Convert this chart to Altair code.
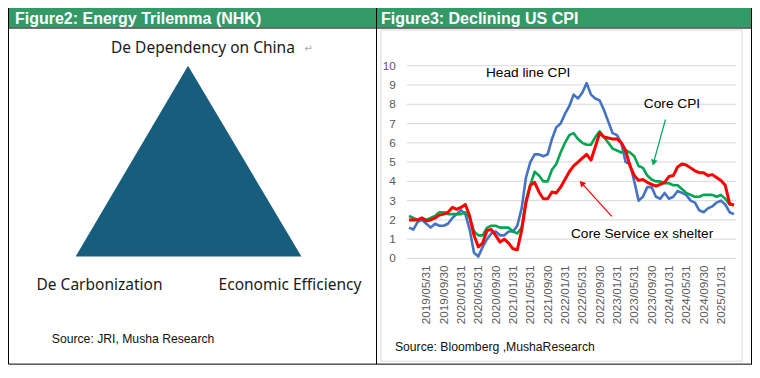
import altair as alt
import pandas as pd

# ---------------- canvas (reference pixel space is mapped onto the chart) ----
W, H = 744, 362
REF_X0, REF_X1 = 8, 756
REF_H = 370


def sx(v):
    return (v - REF_X0) * W / (REF_X1 - REF_X0)


def sy(v):
    return v * H / REF_H


FONT = "Liberation Sans"
DIAGRAM_FONT = "Noto Sans"
GREEN_HDR = "#339966"

# ---------------- Figure 3 data: US CPI, % YoY, monthly 2019/01 .. 2025/04 ----
HEADLINE = [
    1.6, 1.5, 1.9, 2.0, 1.8, 1.6, 1.8, 1.7, 1.7, 1.8, 2.1, 2.3,
    2.5, 2.3, 1.5, 0.3, 0.1, 0.6, 1.0, 1.3, 1.4, 1.2, 1.2, 1.4,
    1.4, 1.7, 2.6, 4.2, 5.0, 5.4, 5.4, 5.3, 5.4, 6.2, 6.8, 7.0,
    7.5, 7.9, 8.5, 8.3, 8.6, 9.1, 8.5, 8.3, 8.2, 7.7, 7.1, 6.5,
    6.4, 6.0, 5.0, 4.9, 4.0, 3.0, 3.2, 3.7, 3.7, 3.2, 3.1, 3.4,
    3.1, 3.2, 3.5, 3.4, 3.3, 3.0, 2.9, 2.5, 2.4, 2.6, 2.7, 2.9,
    3.0, 2.8, 2.4, 2.3,
]
CORE = [
    2.2, 2.1, 2.0, 2.1, 2.0, 2.1, 2.2, 2.4, 2.4, 2.3, 2.3, 2.3,
    2.3, 2.4, 2.1, 1.4, 1.2, 1.2, 1.6, 1.7, 1.7, 1.6, 1.6, 1.6,
    1.4, 1.3, 1.6, 3.0, 3.8, 4.5, 4.3, 4.0, 4.0, 4.6, 4.9, 5.5,
    6.0, 6.4, 6.5, 6.2, 6.0, 5.9, 5.9, 6.3, 6.6, 6.3, 6.0, 5.7,
    5.6, 5.5, 5.6, 5.5, 5.3, 4.8, 4.7, 4.3, 4.1, 4.0, 4.0, 3.9,
    3.9, 3.8, 3.8, 3.6, 3.4, 3.3, 3.2, 3.2, 3.3, 3.3, 3.3, 3.2,
    3.3, 3.1, 2.8, 2.8,
]
SUPERCORE = [
    2.0, 2.0, 2.0, 2.1, 1.95, 2.0, 2.1, 2.25, 2.3, 2.4, 2.65, 2.55,
    2.65, 2.8, 2.2, 1.2, 0.6, 0.8, 1.45, 1.5, 1.2, 0.85, 1.0, 0.8,
    0.5, 0.45, 1.45, 2.9, 3.8, 3.95, 3.45, 3.1, 3.1, 3.45, 3.4, 3.7,
    4.1, 4.5, 4.8, 5.0, 5.2, 5.4, 5.1, 5.8, 6.5, 6.3, 6.25, 6.2,
    6.2, 6.0, 5.6, 4.8, 4.3, 4.05, 4.1, 3.95, 3.85, 3.75, 3.85, 3.95,
    4.25, 4.3, 4.75, 4.9, 4.85, 4.7, 4.55, 4.45, 4.45, 4.3, 4.35, 4.2,
    4.05, 3.8, 2.85, 2.75,
]
N = len(HEADLINE)
MONTH_IDX = list(range(N))

TICK_LABELS = [
    "2019/05/31", "2019/09/30", "2020/01/31", "2020/05/31", "2020/09/30",
    "2021/01/31", "2021/05/31", "2021/09/30", "2022/01/31", "2022/05/31",
    "2022/09/30", "2023/01/31", "2023/05/31", "2023/09/30", "2024/01/31",
    "2024/05/31", "2024/09/30", "2025/01/31",
]
TICK_POS = [4, 8, 12, 16, 20, 24, 28, 32, 36, 40, 44, 48, 52, 56, 60, 64, 68, 72]
Y_TICKS = [0, 1, 2, 3, 4, 5, 6, 7, 8, 9, 10]

# annotations (month index, value)
ANNOT_TEXT = ["Head line CPI", "Core CPI", "Core Service ex shelter"]
ANNOT_X = [27.5, 60.7, 53.8]
ANNOT_Y = [9.64, 8.02, 1.27]
ARROW_X = [59.2, 46.8]
ARROW_Y = [7.21, 2.18]
ARROW_X2 = [56.45, 39.85]
ARROW_Y2 = [4.97, 3.91]
ARROW_COLOR = ["#00A650", "#FF0000"]
ARROW_SHAPE = ["triangle-down", "triangle-up"]
ARROW_ANGLE = [15, 318]

# ---------------- Figure 2 data: trilemma triangle ----
TRI_X = [76, 189, 303]
TRI_TOP = [254, 59, 254]
TRI_BASE = [254, 254, 254]
TRI_COLOR = "#175E7E"

# ---------------- scales ----
PX = alt.Scale(domain=[REF_X0, REF_X1], range=[0, W], nice=False, zero=False)
PY = alt.Scale(domain=[0, REF_H], range=[0, H], nice=False, zero=False)
CX = alt.Scale(domain=[-0.5, N - 0.5], range=[sx(409), sx(740)], nice=False, zero=False)
CY = alt.Scale(domain=[0, 10], range=[sy(256), sy(59)], nice=False, zero=False)


def X(f, s):
    return alt.X(f, scale=s, axis=None)


def Y(f, s):
    return alt.Y(f, scale=s, axis=None)


def text_layer(df, xs, ys, **mark):
    return alt.Chart(df).mark_text(**mark).encode(
        x=X("x:Q", xs), y=Y("y:Q", ys), text="t:N"
    )


layers = []

# white background panels
layers.append(
    alt.Chart(pd.DataFrame({"x": [8.5], "x2": [756], "y": [0], "y2": [364]}))
    .mark_rect(color="white")
    .encode(x=X("x:Q", PX), x2="x2:Q", y=Y("y:Q", PY), y2="y2:Q")
)
# green header bands
layers.append(
    alt.Chart(pd.DataFrame({"x": [8.5, 379], "x2": [378, 756], "y": [0, 0], "y2": [20, 20]}))
    .mark_rect(color=GREEN_HDR)
    .encode(x=X("x:Q", PX), x2="x2:Q", y=Y("y:Q", PY), y2="y2:Q")
)
# gray frame of the chart area
layers.append(
    alt.Chart(pd.DataFrame({"x": [383], "x2": [746], "y": [22.5], "y2": [361]}))
    .mark_rect(fillOpacity=0, stroke="#D9D9D9", strokeWidth=1)
    .encode(x=X("x:Q", PX), x2="x2:Q", y=Y("y:Q", PY), y2="y2:Q")
)
# black table borders
layers.append(
    alt.Chart(pd.DataFrame({
        "x": [8.5, 8.5, 378.5, 755.5, 8.5],
        "x2": [756, 8.5, 378.5, 755.5, 756],
        "y": [20.5, 0, 0, 0, 364],
        "y2": [20.5, 364, 364, 364, 364],
    }))
    .mark_rule(color="black", strokeWidth=1)
    .encode(x=X("x:Q", PX), x2="x2:Q", y=Y("y:Q", PY), y2="y2:Q")
)
# header texts
layers.append(text_layer(
    pd.DataFrame({"x": [15, 383], "y": [16, 16],
                  "t": ["Figure2: Energy Trilemma (NHK)", "Figure3: Declining US CPI"]}),
    PX, PY, align="left", baseline="alphabetic", font=FONT, fontWeight="bold",
    fontSize=16, color="white"))

# ---- Figure 2 ----
layers.append(
    alt.Chart(pd.DataFrame({"x": TRI_X, "y": TRI_TOP, "y2": TRI_BASE}))
    .mark_area(color=TRI_COLOR, orient="vertical")
    .encode(x=X("x:Q", PX), y=Y("y:Q", PY), y2="y2:Q")
)
layers.append(text_layer(
    pd.DataFrame({"x": [204, 100, 291.5], "y": [41, 283, 283],
                  "t": ["De Dependency on China", "De Carbonization", "Economic Efficiency"]}),
    PX, PY, align="center", baseline="middle", font=DIAGRAM_FONT, fontSize=15.5,
    color="#1A1A1A"))
layers.append(text_layer(
    pd.DataFrame({"x": [310], "y": [42], "t": ["\u21b5"]}),
    PX, PY, align="center", baseline="middle", font="DejaVu Sans", fontSize=10,
    color="#AAAAAA"))
layers.append(text_layer(
    pd.DataFrame({"x": [52], "y": [338], "t": ["Source: JRI, Musha Research"]}),
    PX, PY, align="left", baseline="middle", font=FONT, fontSize=12.2, color="#111111"))

# ---- Figure 3 ----
# gridlines
layers.append(
    alt.Chart(pd.DataFrame({"v": Y_TICKS, "a": [-0.5] * len(Y_TICKS), "b": [N - 0.5] * len(Y_TICKS)}))
    .mark_rule(color="#D9D9D9", strokeWidth=1)
    .encode(x=X("a:Q", CX), x2="b:Q", y=Y("v:Q", CY))
)
# y tick labels
layers.append(
    alt.Chart(pd.DataFrame({"v": Y_TICKS, "x": [398] * len(Y_TICKS), "t": [str(v) for v in Y_TICKS]}))
    .mark_text(align="right", baseline="middle", font=FONT, fontSize=11.8, color="#595959")
    .encode(x=X("x:Q", PX), y=Y("v:Q", CY), text="t:N")
)
# x tick labels
layers.append(
    alt.Chart(pd.DataFrame({"i": TICK_POS, "y": [263] * len(TICK_POS), "t": TICK_LABELS}))
    .mark_text(align="right", baseline="middle", angle=270, font=FONT, fontSize=11.8,
               color="#595959")
    .encode(x=X("i:Q", CX), y=Y("y:Q", PY), text="t:N")
)
# series lines
for vals, col, sw in [(HEADLINE, "#4472C4", 2.6), (CORE, "#00A650", 2.6), (SUPERCORE, "#FF0000", 3.0)]:
    layers.append(
        alt.Chart(pd.DataFrame({"i": MONTH_IDX, "v": vals}))
        .mark_line(color=col, strokeWidth=sw, strokeJoin="round")
        .encode(x=X("i:Q", CX), y=Y("v:Q", CY))
    )
# arrows
arrows = pd.DataFrame({"x": ARROW_X, "y": ARROW_Y, "x2": ARROW_X2, "y2": ARROW_Y2,
                       "c": ARROW_COLOR, "s": ARROW_SHAPE, "a": ARROW_ANGLE})
layers.append(
    alt.Chart(arrows).mark_rule(strokeWidth=1.2)
    .encode(x=X("x:Q", CX), x2="x2:Q", y=Y("y:Q", CY), y2="y2:Q",
            color=alt.Color("c:N", scale=None))
)
layers.append(
    alt.Chart(arrows).mark_point(filled=True, opacity=1, size=45)
    .encode(x=X("x2:Q", CX), y=Y("y2:Q", CY), color=alt.Color("c:N", scale=None),
            shape=alt.Shape("s:N", scale=None), angle=alt.Angle("a:Q", scale=None))
)
# annotation texts
layers.append(
    alt.Chart(pd.DataFrame({"x": ANNOT_X, "y": ANNOT_Y, "t": ANNOT_TEXT}))
    .mark_text(align="center", baseline="middle", font=FONT, fontSize=13.7, color="black")
    .encode(x=X("x:Q", CX), y=Y("y:Q", CY), text="t:N")
)
layers.append(text_layer(
    pd.DataFrame({"x": [397], "y": [346], "t": ["Source: Bloomberg ,MushaResearch"]}),
    PX, PY, align="left", baseline="middle", font=FONT, fontSize=12.2, color="#111111"))

chart = (
    alt.layer(*layers)
    .resolve_scale(x="independent", y="independent")
    .properties(width=W, height=H, padding=0,
                autosize=alt.AutoSizeParams(type="none"), background="white")
    .configure_view(strokeWidth=0)
)

chart.save("out.html", embed_options={"renderer": "svg", "actions": False})
